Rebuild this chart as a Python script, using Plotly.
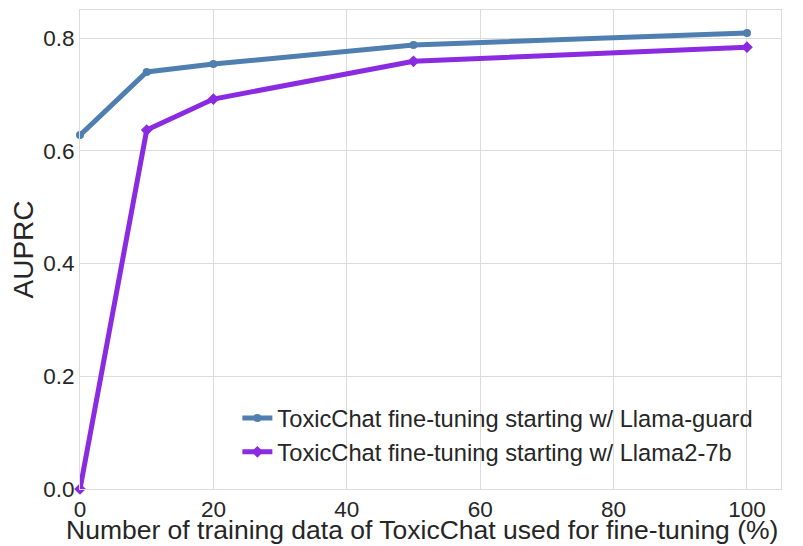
import plotly.graph_objects as go

x_pct = [0, 10, 20, 50, 100]
auprc_llama_guard = [0.628, 0.740, 0.754, 0.788, 0.809]
auprc_llama2_7b = [0.0, 0.637, 0.692, 0.759, 0.784]
series_names = ["ToxicChat fine-tuning starting w/ Llama-guard",
                "ToxicChat fine-tuning starting w/ Llama2-7b"]
x_title = "Number of training data of ToxicChat used for fine-tuning (%)"
y_title = "AUPRC"
x_ticks = [0, 20, 40, 60, 80, 100]
y_ticks = [0.0, 0.2, 0.4, 0.6, 0.8]

fig = go.Figure()
fig.add_trace(go.Scatter(x=x_pct, y=auprc_llama_guard, mode="lines+markers",
                         name=series_names[0],
                         line=dict(color="#4f7fb0", width=5),
                         marker=dict(symbol="circle", size=8, color="#4f7fb0"),
                         cliponaxis=False))
fig.add_trace(go.Scatter(x=x_pct, y=auprc_llama2_7b, mode="lines+markers",
                         name=series_names[1],
                         line=dict(color="#8a2be2", width=5),
                         marker=dict(symbol="diamond", size=9, color="#8a2be2"),
                         cliponaxis=False))

axis_common = dict(showgrid=True, gridcolor="#dcdcdc", gridwidth=1,
                   showline=True, linecolor="#dcdcdc", linewidth=1, mirror=True,
                   zeroline=False, ticks="", automargin=False,
                   tickfont=dict(size=22.5, color="#262626"))

fig.update_layout(
    width=803, height=546,
    margin=dict(l=80, r=22, t=10, b=57),
    paper_bgcolor="white", plot_bgcolor="white",
    font=dict(family="Liberation Sans, Arial, sans-serif", color="#262626"),
    xaxis=dict(range=[0, 105.1], tickvals=x_ticks, **axis_common),
    yaxis=dict(range=[0, 0.85], tickvals=y_ticks, tickformat=".1f", **axis_common),
    legend=dict(x=0.2245, y=0.194, xanchor="left", yanchor="top",
                bgcolor="rgba(0,0,0,0)", borderwidth=0,
                font=dict(size=23.7, color="#262626"), tracegroupgap=0),
    showlegend=True,
)

fig.add_annotation(text=x_title, xref="paper", yref="paper", x=0.4875, y=0,
                   xanchor="center", yanchor="middle", yshift=-41, showarrow=False,
                   font=dict(size=26.5, color="#262626"))
fig.add_annotation(text=y_title, xref="paper", yref="paper", x=0, y=0.5,
                   xanchor="center", yanchor="middle", xshift=-57, textangle=-90,
                   showarrow=False, font=dict(size=28, color="#262626"))

fig.write_html("out.html", config={"displayModeBar": False},
               post_script="document.body.style.margin='0';")
